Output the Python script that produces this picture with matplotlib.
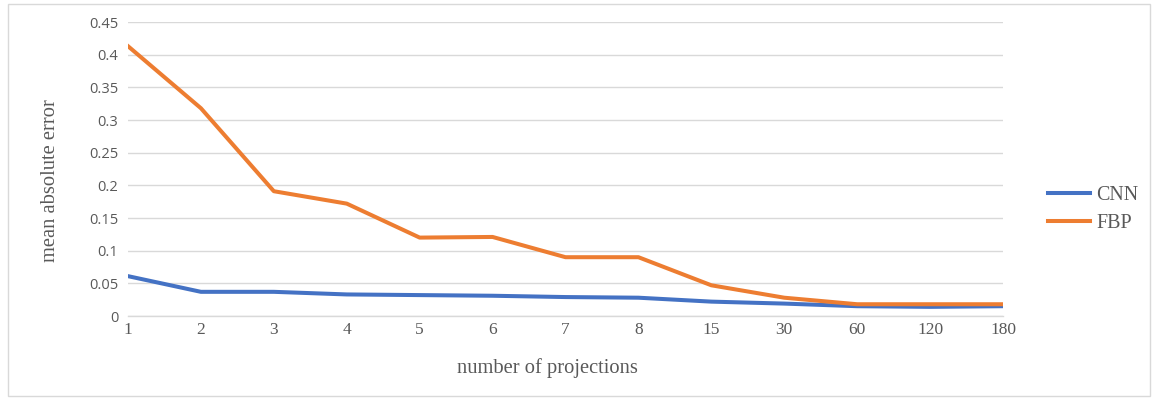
import matplotlib
matplotlib.use("Agg")
import matplotlib.pyplot as plt
from matplotlib.patches import Rectangle

# Mean absolute error vs. number of projections
projections = ["1", "2", "3", "4", "5", "6", "7", "8", "15", "30", "60", "120", "180"]
cnn = [0.061, 0.037, 0.037, 0.033, 0.032, 0.031, 0.029, 0.028, 0.022, 0.019, 0.015, 0.014, 0.015]
fbp = [0.413, 0.318, 0.191, 0.172, 0.120, 0.121, 0.090, 0.090, 0.047, 0.028, 0.018, 0.018, 0.018]
y_ticks = [0, 0.05, 0.1, 0.15, 0.2, 0.25, 0.3, 0.35, 0.4, 0.45]
y_tick_labels = ["0", "0.05", "0.1", "0.15", "0.2", "0.25", "0.3", "0.35", "0.4", "0.45"]

BLUE = "#4472C4"
ORANGE = "#ED7D31"
GRID = "#D9D9D9"
TEXT = "#595959"
SERIF = ["Liberation Serif", "DejaVu Serif"]
SANS = ["Open Sans", "DejaVu Sans"]

W, H = 1156, 400
fig = plt.figure(figsize=(W / 100, H / 100), dpi=100)
fig.patch.set_facecolor("white")

# outer chart border
fig.add_artist(Rectangle((8 / W, 4 / H), (1150 - 8) / W, (396 - 4) / H,
                         transform=fig.transFigure, fill=False,
                         edgecolor=GRID, linewidth=1.0))

left, right = 128 / W, 1003 / W
bottom, top = 1 - 316 / H, 1 - 22 / H
ax = fig.add_axes([left, bottom, right - left, top - bottom])

x = list(range(len(projections)))
l1, = ax.plot(x, cnn, color=BLUE, linewidth=2.9, solid_joinstyle="round", label="CNN", zorder=3)
l2, = ax.plot(x, fbp, color=ORANGE, linewidth=2.9, solid_joinstyle="round", label="FBP", zorder=3)

ax.set_xlim(0, len(projections) - 1)
ax.set_ylim(0, 0.45)
ax.set_yticks(y_ticks)
ax.set_yticklabels(y_tick_labels, fontfamily=SANS, fontsize=10.5, color=TEXT)
ax.set_xticks(x)
ax.set_xticklabels(projections, fontfamily=SERIF, fontsize=12.5, color=TEXT)
ax.tick_params(axis="y", length=0, pad=7)
ax.tick_params(axis="x", length=0, pad=4)

ax.grid(axis="y", color=GRID, linewidth=1.0)
ax.set_axisbelow(True)
for s in ["left", "right", "top"]:
    ax.spines[s].set_visible(False)
ax.spines["bottom"].set_color(GRID)
ax.spines["bottom"].set_linewidth(1.0)

fig.text(547 / W, 1 - 368 / H, "number of projections",
         ha="center", va="center", fontfamily=SERIF, fontsize=14.8, color=TEXT)
fig.text(51 / W, 1 - 181 / H, "mean absolute error", rotation=90,
         ha="center", va="center", fontfamily=SERIF, fontsize=14.8, color=TEXT)

leg = fig.legend(handles=[l1, l2], loc="center left",
                 bbox_to_anchor=(1048 / W, 1 - 209 / H), frameon=False,
                 prop={"family": SERIF, "size": 14.4}, handlelength=2.1,
                 handletextpad=0.3, labelspacing=0.45, borderaxespad=0,
                 borderpad=0)
for t in leg.get_texts():
    t.set_color(TEXT)

fig.savefig("out.png", dpi=100, facecolor="white")
